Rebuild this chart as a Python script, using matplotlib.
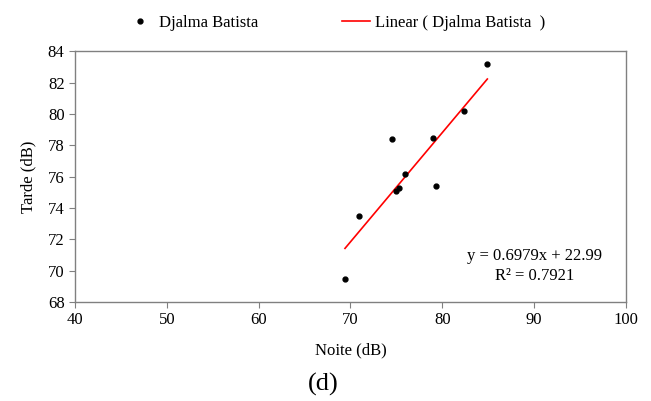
import numpy as np
import matplotlib.pyplot as plt

plt.rcParams['font.family'] = ['Liberation Serif', 'DejaVu Serif']

# noite (x) vs tarde (y), em dB
noite = [69.4, 70.9, 74.5, 75.0, 75.25, 75.9, 78.95, 79.3, 82.4, 84.9]
tarde = [69.5, 73.5, 78.4, 75.1, 75.3, 76.2, 78.5, 75.4, 80.2, 83.2]
serie = 'Djalma Batista'
eq_txt = 'y = 0.6979x + 22.99\nR² = 0.7921'
slope, intercept = 0.6979, 22.99

def main():
	fig = plt.figure(figsize=(6.51, 4.01), dpi=100)
	ax = fig.add_axes([0.1152, 0.2469, 0.8464, 0.6247])

	ax.plot(noite, tarde, 'o', color='black', markersize=3.5, label=serie, zorder=3)
	xs = np.array([min(noite), max(noite)])
	ax.plot(xs, slope * xs + intercept, color='red', lw=1.2,
			label='Linear ( ' + serie + '  )')

	ax.set_xlim(40, 100)
	ax.set_ylim(68, 84)
	ax.set_xticks(range(40, 101, 10))
	ax.set_yticks(range(68, 85, 2))
	for s in ax.spines.values():
		s.set_color('#808080')
		s.set_linewidth(1)
	ax.tick_params(direction='out', length=4, color='#808080', labelsize=12)
	ax.set_xlabel('Noite (dB)', fontsize=12, labelpad=10)
	ax.set_ylabel('Tarde (dB)', fontsize=12, labelpad=8)

	ax.text(90, 70.3, eq_txt, ha='center', va='center', fontsize=12, linespacing=1.3)

	fig.legend(loc='upper center', bbox_to_anchor=(0.516, 1.0), ncol=2, frameon=False,
			   fontsize=12, columnspacing=5.0, handlelength=1.7, handletextpad=0.3)
	fig.text(0.497, 0.012, '(d)', ha='center', va='bottom', fontsize=19)

	fig.savefig('out.png', dpi=100)

if __name__ == '__main__':
	main()
